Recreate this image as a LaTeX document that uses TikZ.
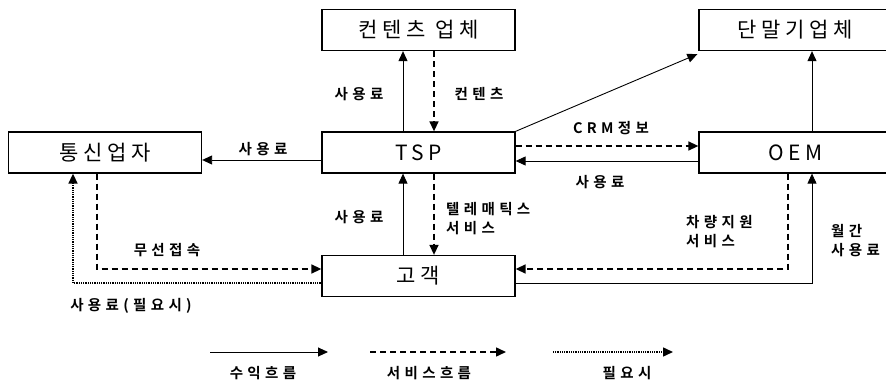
\documentclass[tikz,border=0pt]{standalone}
\usepackage{fontspec}
\setmainfont{Noto Sans CJK KR}
\newfontfamily\boxfont[LetterSpace=22]{Noto Sans CJK KR}
\newfontfamily\lblfont[LetterSpace=30]{Noto Sans CJK KR Bold}
\usetikzlibrary{arrows.meta}
\begin{document}
\begin{tikzpicture}[x=1pt,y=-1pt,
  box/.style={draw,line width=1.3pt,minimum width=193pt,minimum height=41pt,inner sep=0pt,font=\boxfont\fontsize{21}{24}\selectfont},
  lbl/.style={inner sep=0pt,font=\lblfont\fontsize{14.5}{19}\selectfont},
  tip/.style={-{Triangle[length=10pt,width=9pt]}},
  rev/.style={tip,line width=0.9pt},
  svc/.style={tip,line width=1.5pt,dash pattern=on 6pt off 4pt},
  opt/.style={tip,line width=1.5pt,dash pattern=on 1pt off 0.8pt}]
\useasboundingbox (0,0) rectangle (886,382);
\node[box] (cont) at (418.5,30) {컨텐츠 업체};
\node[box] (term) at (795.5,30) {단말기업체};
\node[box] (tel)  at (105,152.5) {통신업자};
\node[box] (tsp)  at (418.5,152.5) {TSP};
\node[box] (oem)  at (795.5,152.5) {OEM};
\node[box] (cust) at (418.5,276) {고객};
% TSP <-> contents
\draw[rev] ([xshift=-15.5pt]tsp.north) -- ([xshift=-15.5pt]cont.south);
\draw[svc] ([xshift=15.5pt]cont.south) -- ([xshift=15.5pt]tsp.north);
\node[lbl] (l1) at (359,94) {사용료};
\node[lbl] (l2) at (479,94) {컨텐츠};
% TSP -> telecom
\draw[rev] ([yshift=-7.5pt]tsp.west) -- ([yshift=-7.5pt]tel.east);
\node[lbl] (l3) at (263,149) {사용료};
% TSP -> terminal
\draw[rev] (tsp.north east) -- ([shift={(-1pt,-3pt)}]term.south west);
% TSP <-> OEM
\draw[svc] ([yshift=6.5pt]tsp.east) -- ([yshift=6.5pt]oem.west);
\draw[rev] ([yshift=-8.5pt]oem.west) -- ([yshift=-8.5pt]tsp.east);
\node[lbl] (l4) at (611,128) {CRM정보};
\node[lbl] (l5) at (600,182) {사용료};
% OEM -> terminal
\draw[rev] ([xshift=16.5pt]oem.north) -- ([xshift=16.5pt]term.south);
% customer <-> TSP
\draw[rev] ([xshift=-15.5pt]cust.north) -- ([xshift=-15.5pt]tsp.south);
\draw[svc] ([xshift=15.5pt]tsp.south) -- ([xshift=15.5pt]cust.north);
\node[lbl] (l6) at (359,217) {사용료};
\node[lbl,anchor=west,align=left] (l7) at (446,218.5) {텔레매틱스\\서비스};
% telecom <-> customer
\draw[svc] ([xshift=-8pt]tel.south) |- ([yshift=7pt]cust.west);
\draw[opt] ([yshift=-7pt]cust.west) -| ([xshift=-32pt]tel.south);
\node[lbl] (l8) at (167,250) {무선접속};
\node[lbl] (l9) at (131,306) {사용료(필요시)};
% OEM <-> customer
\draw[svc] ([xshift=-7.5pt]oem.south) |- ([yshift=7pt]cust.east);
\draw[rev] ([yshift=-7pt]cust.east) -| ([xshift=16.5pt]oem.south);
\node[lbl,anchor=west,align=left] (l10) at (686,231.5) {차량지원\\서비스};
\node[lbl,anchor=west,align=left] (l11) at (831,241) {월간\\사용료};
% legend
\coordinate (a1) at (210,352); \coordinate (a2) at (328,352);
\coordinate (b1) at (370,352); \coordinate (b2) at (506,352);
\coordinate (c1) at (553,352); \coordinate (c2) at (673,352);
\draw[rev] (a1) -- (a2);
\draw[svc] (b1) -- (b2);
\draw[opt] (c1) -- (c2);
\node[lbl] (k1) at (263,373) {수익흐름};
\node[lbl] (k2) at (429,373) {서비스흐름};
\node[lbl] (k3) at (627,373) {필요시};
\end{tikzpicture}
\end{document}
